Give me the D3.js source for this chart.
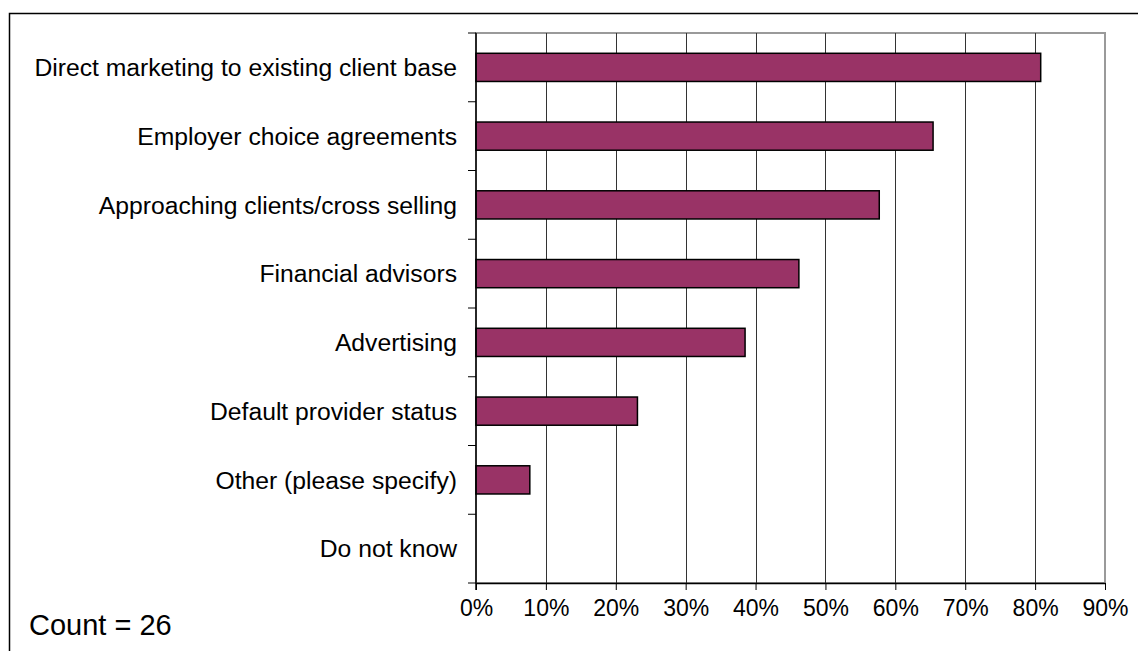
<!DOCTYPE html>
<html>
<head>
<meta charset="utf-8">
<script src="https://cdn.jsdelivr.net/npm/d3@7"></script>
<style>
  html, body { margin: 0; padding: 0; background: #fff; }
  svg { display: block; font-family: "Liberation Sans", Arial, sans-serif; }
</style>
</head>
<body>
<svg id="chart" width="1138" height="651"></svg>
<script>
// Survey responses: share of respondents citing each channel
const categories = [
  "Direct marketing to existing client base",
  "Employer choice agreements",
  "Approaching clients/cross selling",
  "Financial advisors",
  "Advertising",
  "Default provider status",
  "Other (please specify)",
  "Do not know"
];
const shares = [0.808, 0.654, 0.577, 0.462, 0.385, 0.231, 0.077, 0];
const tickValues = [0, 0.1, 0.2, 0.3, 0.4, 0.5, 0.6, 0.7, 0.8, 0.9];
const countLabel = "Count = 26";

const svg = d3.select("#chart");
const plot = { left: 476, right: 1105, top: 33, bottom: 583 };

// outer chart frame (runs off the right and bottom edges)
svg.append("rect")
  .attr("x", 9.5).attr("y", 13.5)
  .attr("width", 1200).attr("height", 700)
  .attr("fill", "#fff").attr("stroke", "#000").attr("stroke-width", 1.5);

const x = d3.scaleLinear().domain([0, 0.9]).range([plot.left, plot.right]);
const y = d3.scaleBand().domain(categories).range([plot.top, plot.bottom]).paddingInner(0.59).paddingOuter(0.295);
const yBands = d3.scaleBand().domain(categories).range([plot.top, plot.bottom]);

// plot area border
svg.append("rect")
  .attr("x", plot.left).attr("y", plot.top)
  .attr("width", plot.right - plot.left).attr("height", plot.bottom - plot.top)
  .attr("fill", "none").attr("stroke", "#9a9a9a").attr("stroke-width", 2);

// vertical gridlines
svg.append("g").selectAll("line")
  .data(tickValues.slice(1, -1))
  .join("line")
  .attr("x1", d => Math.round(x(d)) + 0.5).attr("x2", d => Math.round(x(d)) + 0.5)
  .attr("y1", plot.top).attr("y2", plot.bottom)
  .attr("stroke", "#333").attr("stroke-width", 1);

// bars
svg.append("g").selectAll("rect")
  .data(categories.map((c, i) => ({ c, v: shares[i] })).filter(d => d.v > 0))
  .join("rect")
  .attr("x", x(0))
  .attr("y", d => y(d.c))
  .attr("width", d => x(d.v) - x(0))
  .attr("height", y.bandwidth())
  .attr("fill", "#993366")
  .attr("stroke", "#000").attr("stroke-width", 1.5);

// x axis
const xAxis = d3.axisBottom(x)
  .tickValues(tickValues)
  .tickFormat(d3.format(".0%"))
  .tickSize(7)
  .tickSizeOuter(0)
  .tickPadding(10);
const gx = svg.append("g").attr("transform", `translate(0,${plot.bottom})`).call(xAxis);
gx.select(".domain").attr("stroke", "#000").attr("stroke-width", 1.5);
gx.selectAll(".tick line").attr("stroke", "#000");
gx.selectAll(".tick text").attr("font-size", 23).attr("fill", "#000")
  .attr("font-family", "Liberation Sans, Arial, sans-serif");

// y axis: ticks between categories
const yAxisLine = svg.append("g");
yAxisLine.append("line")
  .attr("x1", plot.left).attr("x2", plot.left)
  .attr("y1", plot.top).attr("y2", plot.bottom + 7)
  .attr("stroke", "#000").attr("stroke-width", 1.5);
yAxisLine.selectAll("line.tk")
  .data(categories.map(c => yBands(c)).concat([plot.bottom]))
  .join("line").attr("class", "tk")
  .attr("x1", plot.left - 8).attr("x2", plot.left)
  .attr("y1", d => d).attr("y2", d => d)
  .attr("stroke", "#000").attr("stroke-width", 1);

// category labels
svg.append("g").selectAll("text")
  .data(categories)
  .join("text")
  .attr("x", plot.left - 19)
  .attr("y", d => yBands(d) + yBands.bandwidth() / 2)
  .attr("dy", "0.35em")
  .attr("text-anchor", "end")
  .attr("font-size", 24.7)
  .attr("fill", "#000")
  .text(d => d);

svg.append("text")
  .attr("x", 29).attr("y", 635)
  .attr("font-size", 29)
  .attr("fill", "#000")
  .text(countLabel);
</script>
</body>
</html>
